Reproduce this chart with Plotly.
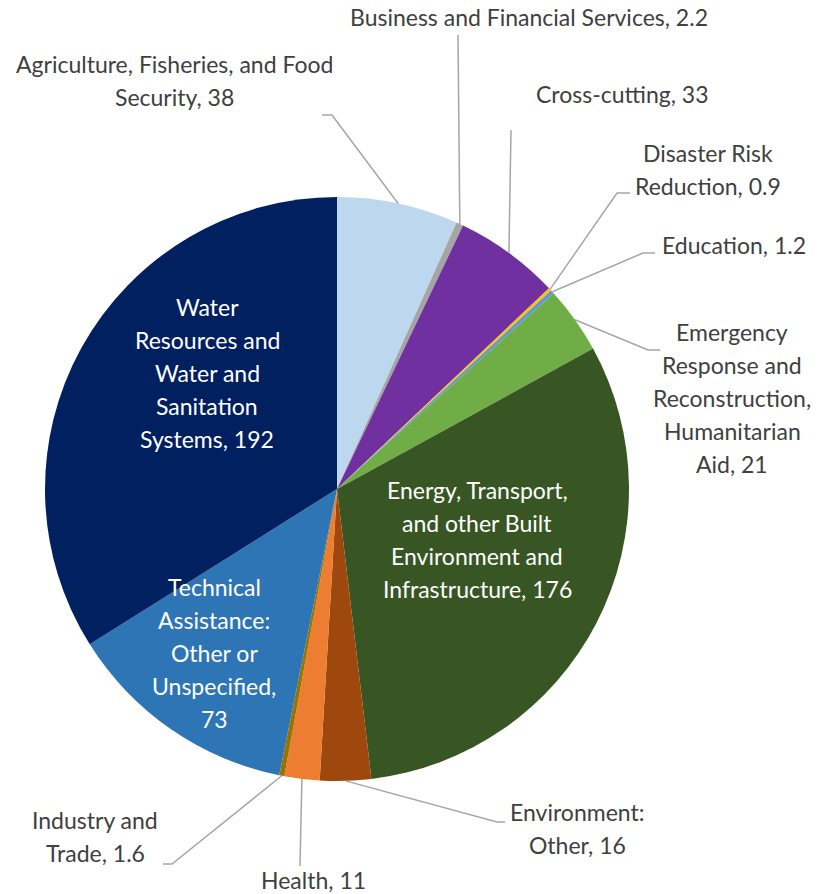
import math
import plotly.graph_objects as go

# Funding by sector
sectors = [
    "Agriculture, Fisheries, and Food Security",
    "Business and Financial Services",
    "Cross-cutting",
    "Disaster Risk Reduction",
    "Education",
    "Emergency Response and Reconstruction, Humanitarian Aid",
    "Energy, Transport, and other Built Environment and Infrastructure",
    "Environment: Other",
    "Health",
    "Industry and Trade",
    "Technical Assistance: Other or Unspecified",
    "Water Resources and Water and Sanitation Systems",
]
values = [38, 2.2, 33, 0.9, 1.2, 21, 176, 16, 11, 1.6, 73, 192]
colors = [
    "#BDD7EE", "#A5A5A5", "#7030A0", "#FFC000", "#5B9BD5", "#70AD47",
    "#375623", "#9E480E", "#ED7D31", "#997300", "#2E75B6", "#002060",
]
value_text = ["38", "2.2", "33", "0.9", "1.2", "21", "176", "16", "11", "1.6", "73", "192"]

# Label lines (the last line carries the value)
label_lines = [
    ["Agriculture, Fisheries, and Food", "Security, {v}"],
    ["Business and Financial Services, {v}"],
    ["Cross-cutting, {v}"],
    ["Disaster Risk", "Reduction, {v}"],
    ["Education, {v}"],
    ["Emergency", "Response and", "Reconstruction,", "Humanitarian", "Aid, {v}"],
    ["Energy, Transport,", "and other Built", "Environment and", "Infrastructure, {v}"],
    ["Environment:", "Other, {v}"],
    ["Health, {v}"],
    ["Industry and", "Trade, {v}"],
    ["Technical", "Assistance:", "Other or", "Unspecified,", "{v}"],
    ["Water", "Resources and", "Water and", "Sanitation", "Systems, {v}"],
]

W, H = 819, 894
CX, CY, R = 337, 489, 292
LINE_H = 33
FONT = "Lato, Open Sans, sans-serif"
FS = 23

# label placement: (center x, first line y, inside?)
label_pos = [
    (174, 64, False), (529, 17, False), (622, 94, False), (708, 153, False),
    (734, 245, False), (732, 332, False), (477, 490, True), (577, 812, False),
    (313, 880, False), (95, 820, False), (214, 587, True), (207, 307, True),
]
# leader line waypoints after the rim point (None = no leader)
leaders = [
    [(332, 115), (322, 115)],
    [(458, 35)],
    [(511, 130)],
    [(617, 193), (630, 193)],
    [(643, 253), (655, 253)],
    [(648, 350), (660, 350)],
    None,
    [(497, 822), (505, 822)],
    [(300, 866)],
    [(172, 864), (163, 864)],
    None,
    None,
]


def px(x):
    return x / W


def py(y):
    return 1 - y / H


fig = go.Figure(go.Pie(
    labels=sectors,
    values=values,
    marker=dict(colors=colors, line=dict(width=0)),
    sort=False,
    direction="clockwise",
    rotation=0,
    textinfo="none",
    hoverinfo="label+value",
    showlegend=False,
    domain=dict(x=[px(CX - R), px(CX + R)], y=[py(CY + R), py(CY - R)]),
))

total = sum(values)
cum = 0.0
annotations = []
shapes = []
for i, v in enumerate(values):
    mid = (cum + v / 2) / total * 2 * math.pi
    cum += v
    rim = (CX + R * math.sin(mid), CY - R * math.cos(mid))

    cx, y0, inside = label_pos[i]
    color = "#FFFFFF" if inside else "#404040"
    for k, line in enumerate(label_lines[i]):
        annotations.append(dict(
            x=px(cx), y=py(y0 + k * LINE_H), xref="paper", yref="paper",
            text=line.format(v=value_text[i]), showarrow=False,
            xanchor="center", yanchor="middle",
            font=dict(family=FONT, size=FS, color=color),
        ))

    if leaders[i]:
        pts = [rim] + leaders[i]
        path = "M " + " L ".join(f"{px(x):.5f},{py(y):.5f}" for x, y in pts)
        shapes.append(dict(type="path", path=path, xref="paper", yref="paper",
                           line=dict(color="#A6A6A6", width=1.5)))

fig.update_layout(
    width=W, height=H,
    margin=dict(l=0, r=0, t=0, b=0),
    paper_bgcolor="white",
    plot_bgcolor="white",
    annotations=annotations,
    shapes=shapes,
)

fig.write_html("out.html")
